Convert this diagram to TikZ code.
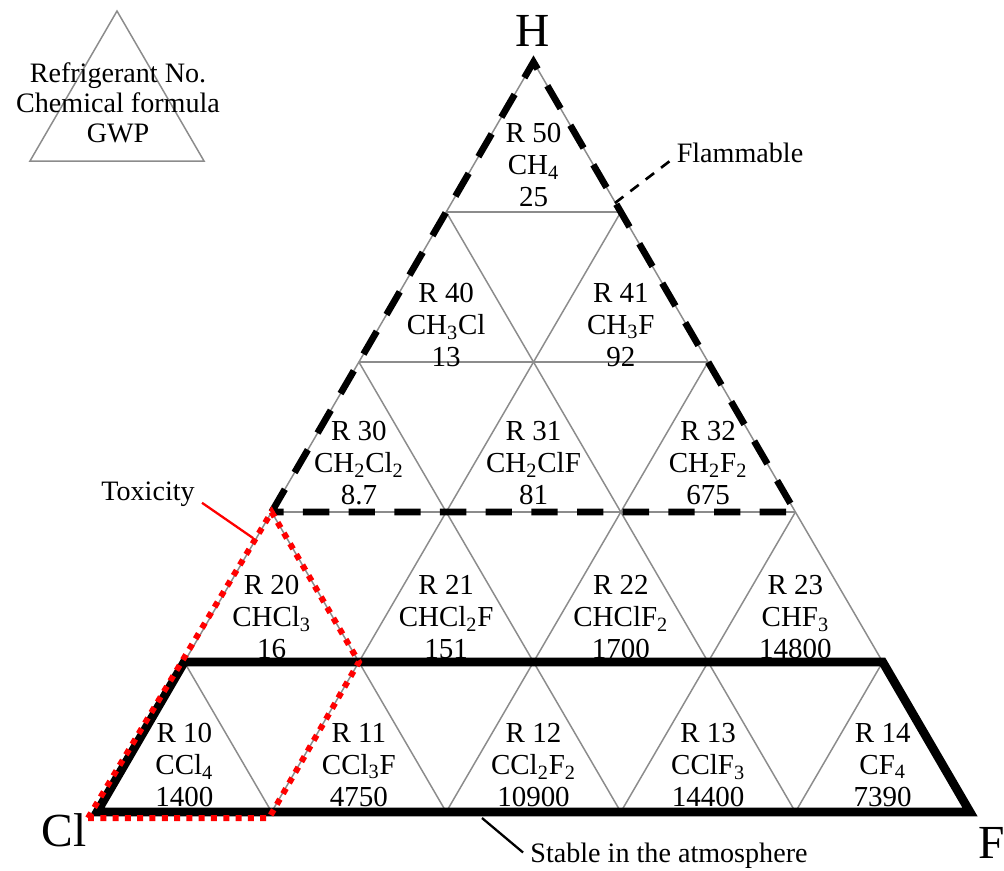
\documentclass[tikz,border=0pt]{standalone}
\usepackage{fontspec}
\setmainfont{Liberation Serif}
\usepackage{tikz}
\usetikzlibrary{positioning}
\definecolor{gridgray}{rgb}{0.55,0.55,0.55}
\tikzstyle{gridline} = [draw=gridgray, line width=0.85pt]
\tikzstyle{cell}     = [align=center, font=\fontsize{16.5}{18}\selectfont, inner sep=0pt]
\tikzstyle{note}     = [align=center, font=\fontsize{16}{17}\selectfont, inner sep=0pt]
\tikzstyle{vertex}   = [font=\fontsize{27}{27}\selectfont, inner sep=0pt]
\tikzstyle{flam}     = [draw, line width=3.8pt, dash pattern=on 15pt off 11pt]
\tikzstyle{stab}     = [draw, line width=5pt]
\tikzstyle{tox}      = [draw=red, line width=3.4pt, dash pattern=on 3.4pt off 3.6pt]

\begin{document}
\begin{tikzpicture}[x=0.02cm, y=-0.02cm]
\useasboundingbox (0,0) rectangle (1004,870);

% grid points
\foreach \i in {0,...,5} {
  \foreach \j in {0,...,5} {
    \coordinate (p-\i-\j) at (97+174.6*\i+87.3*\j, 812-150*\j);
  }
}

% grid
\foreach \j in {0,...,4} {
  \pgfmathtruncatemacro{\k}{5-\j}
  \draw [gridline] (p-0-\j) -- (p-\k-\j);
}
\foreach \i in {0,...,4} {
  \pgfmathtruncatemacro{\k}{5-\i}
  \draw [gridline] (p-\i-0) -- (p-\i-\k);
}
\foreach \i in {1,...,5} {
  \draw [gridline] (p-\i-0) -- (p-0-\i);
}

% legend
\coordinate (l1) at (117,11);
\coordinate (l2) at (30,161);
\coordinate (l3) at (204,161);
\draw [gridline] (l1) -- (l2) -- (l3) -- cycle;
\node [note] at (118,103) (legend) {Refrigerant No.\\Chemical formula\\GWP};

% corners
\node [vertex] at (533,31)  (h)  {H};
\node [vertex] at (64,830)  (cl) {Cl};
\node [vertex] at (992,843) (f)  {F};

% cells
\node [cell] at (184.3,765) (r10) {R 10\\CCl\textsubscript{4}\\1400};
\node [cell] at (358.9,765) (r11) {R 11\\CCl\textsubscript{3}F\\4750};
\node [cell] at (533.5,765) (r12) {R 12\\CCl\textsubscript{2}F\textsubscript{2}\\10900};
\node [cell] at (708.1,765) (r13) {R 13\\CClF\textsubscript{3}\\14400};
\node [cell] at (882.7,765) (r14) {R 14\\CF\textsubscript{4}\\7390};
\node [cell] at (271.6,617) (r20) {R 20\\CHCl\textsubscript{3}\\16};
\node [cell] at (446.2,617) (r21) {R 21\\CHCl\textsubscript{2}F\\151};
\node [cell] at (620.8,617) (r22) {R 22\\CHClF\textsubscript{2}\\1700};
\node [cell] at (795.4,617) (r23) {R 23\\CHF\textsubscript{3}\\14800};
\node [cell] at (358.9,463) (r30) {R 30\\CH\textsubscript{2}Cl\textsubscript{2}\\8.7};
\node [cell] at (533.5,463) (r31) {R 31\\CH\textsubscript{2}ClF\\81};
\node [cell] at (708.1,463) (r32) {R 32\\CH\textsubscript{2}F\textsubscript{2}\\675};
\node [cell] at (446.2,325) (r40) {R 40\\CH\textsubscript{3}Cl\\13};
\node [cell] at (620.8,325) (r41) {R 41\\CH\textsubscript{3}F\\92};
\node [cell] at (533.5,165) (r50) {R 50\\CH\textsubscript{4}\\25};

% regions
\draw [flam] (p-0-2) -- (p-0-5) -- (p-3-2) -- cycle;
\draw [stab] (p-0-0) -- (p-5-0) -- (p-4-1) -- (p-0-1) -- cycle;
\coordinate (t1) at (88,818);
\coordinate (t2) at (269,818);
\draw [tox] (t1) -- (t2) -- (p-1-1) -- (p-0-2) -- cycle;

% notes
\node [note] at (740,153) (flammable) {Flammable};
\node [note] at (148,494) (toxicity)  {Toxicity};
\node [note] at (669,856) (stable)    {Stable in the atmosphere};
\coordinate (fl) at (615,203);
\coordinate (tx) at (253,538);
\coordinate (st) at (482,818);
\draw [line width=1.5pt, dash pattern=on 6pt off 5pt] (fl) -- ([xshift=-3pt, yshift=-4pt]flammable.west);
\draw [red, line width=1.3pt] (tx) -- ([xshift=4pt, yshift=-5pt]toxicity.east);
\draw [line width=1.3pt] (st) -- ([xshift=-4pt, yshift=2pt]stable.west);

\end{tikzpicture}
\end{document}
